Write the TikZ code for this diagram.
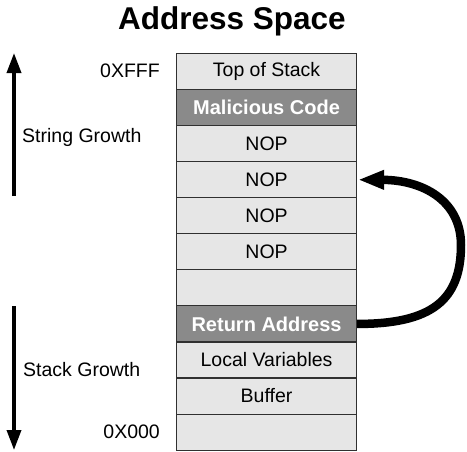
\documentclass[tikz,border=0pt]{standalone}
\usepackage{fontspec}
\setmainfont{Liberation Sans}
\usetikzlibrary{arrows.meta}
\definecolor{cellgray}{HTML}{E6E6E6}
\definecolor{darkcell}{HTML}{8A8A8A}
\definecolor{bordercol}{HTML}{303030}
\tikzset{
  cell/.style={draw=bordercol, line width=1.1pt, fill=cellgray, minimum width=180pt, minimum height=36.05pt, inner sep=0pt, font=\fontsize{19.5}{22}\selectfont, text=black, anchor=north west},
  hicell/.style={cell, fill=darkcell, text=white, font=\fontsize{20}{22}\selectfont\bfseries},
  lbl/.style={font=\fontsize{19.5}{22}\selectfont, inner sep=0pt},
  growarrow/.style={line width=3.6pt, -{Triangle[length=20pt,width=14pt]}},
  jumparrow/.style={line width=8.5pt, -{Triangle[length=26pt,width=18pt]}}
}
\begin{document}
\begin{tikzpicture}[x=1pt,y=-1pt]
\useasboundingbox (0,0) rectangle (467,451);
\node[font=\fontsize{31.5}{35}\selectfont\bfseries] (title) at (232,21) {Address Space};
\node[cell] (c1) at (176,53.0) {Top of Stack};
\node[hicell] (c2) at (176,89.05) {Malicious Code};
\node[cell] (c3) at (176,125.1) {NOP};
\node[cell] (c4) at (176,161.15) {NOP};
\node[cell] (c5) at (176,197.2) {NOP};
\node[cell] (c6) at (176,233.25) {NOP};
\node[cell] (c7) at (176,269.3) {};
\node[hicell] (c8) at (176,305.35) {Return Address};
\node[cell] (c9) at (176,341.4) {Local Variables};
\node[cell] (c10) at (176,377.45) {Buffer};
\node[cell] (c11) at (176,413.5) {};
\node[lbl, anchor=east] (hi) at (160,71) {0XFFF};
\node[lbl, anchor=west] (sg) at (22,137) {String Growth};
\node[lbl, anchor=west] (stg) at (23,370) {Stack Growth};
\node[lbl, anchor=east] (lo) at (160,432) {0X000};
\coordinate (upS) at (14,196);
\coordinate (upE) at (14,53);
\coordinate (dnS) at (14,306);
\coordinate (dnE) at (14,450);
\draw[growarrow] (upS) -- (upE);
\draw[growarrow] (dnS) -- (dnE);
\draw[jumparrow] (c8.east) .. controls (432,324) and (461,300) .. (461,245)
  .. controls (461,200) and (422,180) .. ([xshift=1pt]c4.east);
\end{tikzpicture}
\end{document}
